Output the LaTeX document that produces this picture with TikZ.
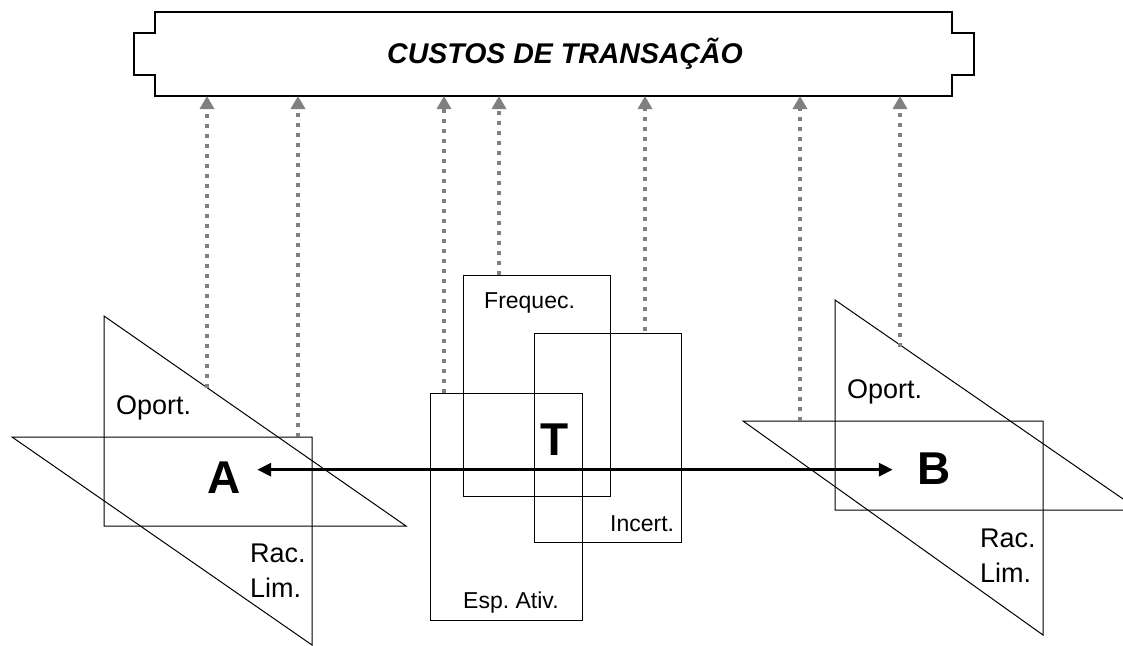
\documentclass[tikz,border=0pt]{standalone}
\usepackage{fontspec}
\setmainfont{Liberation Sans}
\usetikzlibrary{arrows.meta}
\definecolor{dotgray}{HTML}{808080}
\frenchspacing
\begin{document}
\begin{tikzpicture}[x=1pt,y=-1pt,
  outline/.style={line width=1pt, line join=miter},
  lbl/.style={inner sep=0pt, anchor=base west, font=\fontsize{27}{32}\selectfont},
  smalllbl/.style={inner sep=0pt, anchor=base west, font=\fontsize{23}{28}\selectfont},
  biglbl/.style={inner sep=0pt, anchor=base, font=\fontsize{46}{50}\selectfont\bfseries},
  cost/.style={line width=4.4pt, draw=dotgray, dash pattern=on 4pt off 6pt,
    -{Triangle[length=13pt,width=14pt,fill=dotgray]}},
  link/.style={line width=3pt, {Triangle[length=14pt,width=13pt]}-{Triangle[length=14pt,width=13pt]}}
]
\useasboundingbox (0,0) rectangle (1123,645);

% banner
\draw[line width=1.2pt, line join=miter] (155,12) -- (952,12) -- (952,33) -- (974,33) -- (974,75)
  -- (952,75) -- (952,96) -- (155,96) -- (155,75) -- (134,75) -- (134,33) -- (155,33) -- cycle;
\coordinate (bb) at (0,96);
\node[inner sep=0pt, anchor=base west, font=\fontsize{28.5}{32}\selectfont\bfseries\itshape] (ct) at (387,63) {CUSTOS DE TRANSAÇÃO};

% agent A
\draw[outline] (104,316) -- (104,526) -- (406,526) -- cycle;
\draw[outline] (12,437) -- (312,437) -- (312,645) -- cycle;
\node[lbl] (oa) at (116,414) {Oport.};
\node[lbl] (ra) at (250,562) {Rac.};
\node[lbl] (la) at (250,597) {Lim.};
\node[biglbl] (A) at (224,493) {A};

% agent B
\draw[outline] (835,300) -- (835,510) -- (1139,510) -- cycle;
\draw[outline] (743,421) -- (1043,421) -- (1043,635) -- cycle;
\node[lbl] (ob) at (847,398) {Oport.};
\node[lbl] (rb) at (980,547) {Rac.};
\node[lbl] (lb) at (980,582) {Lim.};
\node[biglbl] (B) at (934,484) {B};

% transaction
\draw[outline] (463,275) rectangle (610,496);
\draw[outline] (534,333) rectangle (681,542);
\draw[outline] (430,393) rectangle (582,620);
\node[smalllbl] (fr) at (484,308) {Frequec.};
\node[smalllbl] (in) at (610,531) {Incert.};
\node[smalllbl] (ea) at (463,608) {Esp. Ativ.};
\node[biglbl] (T) at (555,455) {T};

% main link
\draw[link] ([xshift=16.4pt,yshift=7.5pt]A.east) -- ([xshift=-24.4pt,yshift=-1.5pt]B.west);

% cost arrows
\coordinate (s1) at (207,388);
\coordinate (s2) at (298,437);
\coordinate (s3) at (444,393);
\coordinate (s4) at (499,275);
\coordinate (s5) at (645,331);
\coordinate (s6) at (800,421);
\coordinate (s7) at (900,347);
\foreach \s in {s1,s2,s3,s4,s5,s6,s7}
  \draw[cost] (\s) -- (\s |- bb);
\end{tikzpicture}
\end{document}
